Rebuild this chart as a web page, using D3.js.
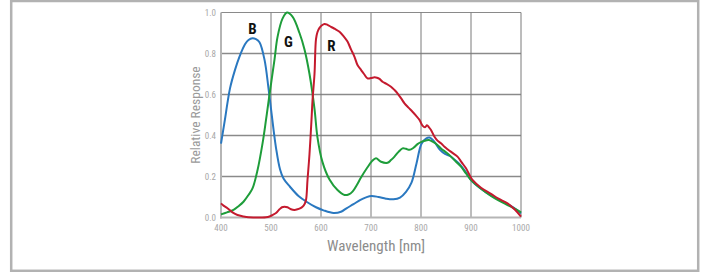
<!DOCTYPE html>
<html><head><meta charset="utf-8">
<script src="https://cdn.jsdelivr.net/npm/d3@7"></script>
<style>
body{margin:0;background:#fff;}
svg{display:block;font-family:"Liberation Sans Narrow","Roboto Condensed","Liberation Sans",sans-serif;}
</style></head><body>
<svg id="c" width="707" height="272"></svg>
<script>
const xTicks = [400,500,600,700,800,900,1000];
const yTicks = [0,0.2,0.4,0.6,0.8,1.0];
const yTickLabels = ["0.0","0.2","0.4","0.6","0.8","1.0"];
const seriesNames = ["B","G","R"];
const blueWl = [400,404,408,413,418,428,437,448,455,463,470,477,487,495,500,505,510,518,525,538,555,571,590,605,625,640,651,665,678,690,701,715,730,745,758,770,781,791,801,810,817,825,838,848,858,868,878,890,901,920,938,955,971,985,1000];
const blueVal = [0.36,0.42,0.48,0.56,0.63,0.72,0.785,0.845,0.866,0.874,0.87,0.855,0.77,0.63,0.53,0.43,0.34,0.235,0.19,0.15,0.105,0.077,0.05,0.035,0.022,0.028,0.045,0.065,0.085,0.098,0.105,0.1,0.092,0.089,0.097,0.125,0.17,0.264,0.36,0.385,0.39,0.375,0.33,0.31,0.3,0.28,0.258,0.22,0.18,0.14,0.11,0.088,0.068,0.048,0.02];
const greenWl = [400,412,425,435,445,455,463,473,483,490,497,507,513,523,532,543,557,567,577,587,593,603,617,633,647,655,663,672,680,693,702,710,720,733,740,747,755,763,770,777,785,793,802,810,816,823,830,840,850,860,870,880,890,903,920,940,955,973,990,1000];
const greenVal = [0.015,0.025,0.037,0.055,0.077,0.11,0.142,0.23,0.36,0.476,0.6,0.77,0.88,0.97,1.0,0.98,0.9,0.82,0.7,0.53,0.39,0.27,0.185,0.134,0.11,0.112,0.126,0.16,0.195,0.245,0.275,0.289,0.272,0.267,0.28,0.297,0.32,0.337,0.335,0.33,0.34,0.358,0.37,0.376,0.378,0.37,0.36,0.337,0.318,0.297,0.272,0.248,0.215,0.175,0.14,0.105,0.083,0.061,0.04,0.025];
const redWl = [400,405,413,423,433,445,455,467,480,490,497,503,510,517,522,527,533,540,547,553,558,563,567,570,573,577,581,583,587,590,593,597,602,607,613,620,628,637,645,653,660,667,673,680,686,693,700,707,712,717,723,731,740,747,753,760,767,775,783,790,797,803,808,812,816,820,827,833,840,847,853,863,873,881,890,896,903,920,940,955,973,988,1000];
const redVal = [0.069,0.058,0.045,0.025,0.012,0.005,0.001,0.0,0.0,0.001,0.005,0.012,0.022,0.04,0.05,0.053,0.05,0.04,0.037,0.04,0.045,0.053,0.065,0.085,0.183,0.31,0.476,0.57,0.7,0.87,0.905,0.925,0.938,0.944,0.94,0.93,0.92,0.906,0.885,0.858,0.82,0.784,0.744,0.72,0.7,0.679,0.68,0.684,0.682,0.676,0.662,0.652,0.638,0.622,0.606,0.582,0.557,0.536,0.516,0.497,0.476,0.448,0.44,0.45,0.44,0.427,0.394,0.375,0.362,0.345,0.333,0.315,0.297,0.27,0.24,0.212,0.183,0.145,0.115,0.092,0.069,0.038,0.004];
const labelPos = [[463,0.894],[535,0.83],[621,0.814]];

const svg = d3.select("#c");
const x = d3.scaleLinear().domain([400,1000]).range([221,521]);
const y = d3.scaleLinear().domain([0,1]).range([217.5,12.5]);

svg.append("rect").attr("x",11.2).attr("y",1).attr("width",687).attr("height",269.8)
  .attr("fill","none").attr("stroke","#b2b2b2").attr("stroke-width",2.5);

const g = svg.append("g");
g.selectAll(".hg").data(yTicks.slice(1)).join("line")
  .attr("x1",x(400)).attr("x2",x(1000)).attr("y1",d=>y(d)).attr("y2",d=>y(d))
  .attr("stroke","#8a8a8a").attr("stroke-width",d=>d===1?1:1.4);
g.selectAll(".vg").data(xTicks.slice(1)).join("line")
  .attr("y1",y(0)).attr("y2",y(1)).attr("x1",d=>x(d)).attr("x2",d=>x(d))
  .attr("stroke","#7a7a7a").attr("stroke-width",1);
g.append("line").attr("x1",x(400)).attr("x2",x(400)).attr("y1",y(0)+1).attr("y2",y(1))
  .attr("stroke","#b5b5b5").attr("stroke-width",2);
g.append("line").attr("x1",x(400)-1).attr("x2",x(1000)).attr("y1",y(0)).attr("y2",y(0))
  .attr("stroke","#b5b5b5").attr("stroke-width",2);

svg.append("g").selectAll("text").data(yTicks).join("text")
  .attr("x",216).attr("y",d=>y(d)+3).attr("text-anchor","end")
  .attr("font-size",9).attr("fill","#a8a8a8").text((d,i)=>yTickLabels[i]);
svg.append("g").selectAll("text").data(xTicks).join("text")
  .attr("x",d=>x(d)).attr("y",231).attr("text-anchor","middle")
  .attr("font-size",9).attr("fill","#a8a8a8").text(d=>d);

svg.append("text").attr("transform","translate(200,115) rotate(-90)")
  .attr("text-anchor","middle").attr("font-size",13.5).attr("fill","#9a9a9a").text("Relative Response");
svg.append("text").attr("x",376).attr("y",251).attr("text-anchor","middle")
  .attr("font-size",15).attr("fill","#8c8c8c").text("Wavelength [nm]");

const line = d3.line().x(d=>x(d[0])).y(d=>y(d[1])).curve(d3.curveCatmullRom.alpha(0.5));
const series = [
  {wl:blueWl, v:blueVal, c:"#2a78c0"},
  {wl:greenWl, v:greenVal, c:"#1e9d3a"},
  {wl:redWl, v:redVal, c:"#c41a2e"}
];
series.forEach(s=>{
  svg.append("path").datum(s.wl.map((w,i)=>[w,s.v[i]]))
    .attr("d",line).attr("fill","none").attr("stroke",s.c).attr("stroke-width",2)
    .attr("stroke-linejoin","round");
});

svg.append("g").selectAll("text").data(seriesNames).join("text")
  .attr("x",(d,i)=>x(labelPos[i][0])).attr("y",(d,i)=>y(labelPos[i][1]))
  .attr("text-anchor","middle").attr("font-size",15).attr("font-weight","bold")
  .attr("fill","#111").text(d=>d);
</script>
</body></html>
